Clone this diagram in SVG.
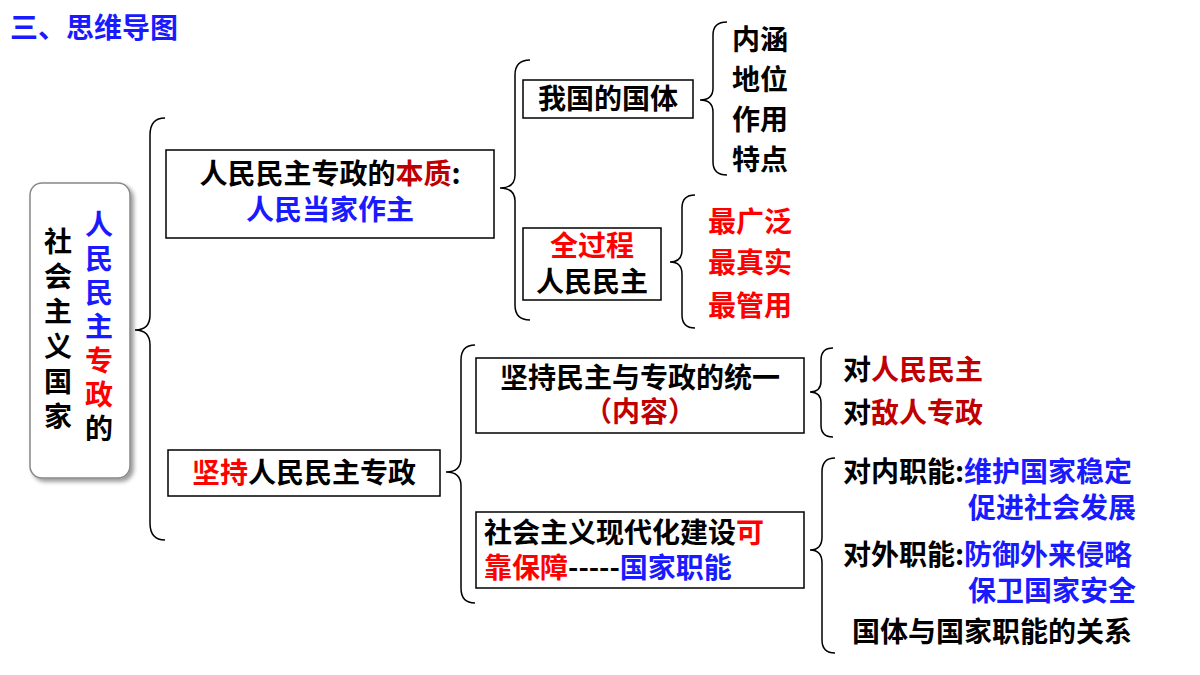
<svg xmlns="http://www.w3.org/2000/svg" width="1200" height="675" viewBox="0 0 1200 675">
<style>
text{font-family:"Noto Sans CJK SC","Noto Sans",sans-serif;font-weight:bold;font-size:28px;fill:#000}
.b{fill:#1a1aff}.r{fill:#ff0000}.dr{fill:#c00000}
.box{fill:#fff;stroke:#000;stroke-width:1.5}
.br{fill:none;stroke:#000;stroke-width:1.5}
</style>
<defs><filter id="sh"><feDropShadow dx="3" dy="3" stdDeviation="2" flood-opacity="0.4"/></filter></defs>
<rect width="1200" height="675" fill="#fff"/>
<text x="10" y="38" class="b" font-size="32">三、思维导图</text>
<g id="root">
<rect x="30" y="183" width="100" height="295" rx="12" fill="#fff" stroke="#888" stroke-width="1.5" filter="url(#sh)"/>
<text x="58" y="252" text-anchor="middle" font-size="32"><tspan x="58" dy="0">社</tspan><tspan x="58" dy="35">会</tspan><tspan x="58" dy="35">主</tspan><tspan x="58" dy="35">义</tspan><tspan x="58" dy="35">国</tspan><tspan x="58" dy="35">家</tspan></text>
<text x="99" y="235" text-anchor="middle" font-size="32"><tspan x="99" dy="0" class="b">人</tspan><tspan x="99" dy="34" class="b">民</tspan><tspan x="99" dy="34" class="b">民</tspan><tspan x="99" dy="34" class="b">主</tspan><tspan x="99" dy="34" class="r">专</tspan><tspan x="99" dy="34" class="r">政</tspan><tspan x="99" dy="34">的</tspan></text>
</g>
<g id="connectors">
<path class="br" d="M165,118 Q150,118 150,135 L150,315 Q150,330 135,330 Q150,330 150,345 L150,523 Q150,540 165,540"/>
<path class="br" d="M530,60 Q515,60 515,75 L515,175 Q515,188 500,188 Q515,188 515,201 L515,305 Q515,320 530,320"/>
<path class="br" d="M727,22 Q713,22 713,35 L713,88 Q713,100 700,100 Q713,100 713,112 L713,162 Q713,175 727,175"/>
<path class="br" d="M695,195 Q682,195 682,208 L682,250 Q682,262 670,262 Q682,262 682,274 L682,315 Q682,328 695,328"/>
<path class="br" d="M475,345 Q461,345 461,360 L461,458 Q461,472 446,472 Q461,472 461,486 L461,588 Q461,603 475,603"/>
<path class="br" d="M833,348 Q821,348 821,360 L821,381 Q821,392 810,392 Q821,392 821,403 L821,425 Q821,437 833,437"/>
<path class="br" d="M835,458 Q822,458 822,472 L822,537 Q822,550 810,550 Q822,550 822,563 L822,640 Q822,653 835,653"/>
</g>
<g id="n1"><rect class="box" x="166" y="150" width="328" height="88"/>
<text x="330" y="184" text-anchor="middle">人民民主专政的<tspan class="dr">本质</tspan>:</text>
<text x="330" y="220" text-anchor="middle" class="b">人民当家作主</text></g>
<g id="n2"><rect class="box" x="168" y="450" width="272" height="46"/>
<text x="304" y="483" text-anchor="middle"><tspan class="r">坚持</tspan>人民民主专政</text></g>
<g id="n3"><rect class="box" x="523" y="80" width="170" height="38"/>
<text x="608" y="109" text-anchor="middle">我国的国体</text></g>
<g id="n4"><rect class="box" x="523" y="228" width="138" height="72"/>
<text x="592" y="256" text-anchor="middle" class="r">全过程</text>
<text x="592" y="292" text-anchor="middle">人民民主</text></g>
<g id="n5"><text x="760" y="50" text-anchor="middle">内涵</text><text x="760" y="90" text-anchor="middle">地位</text><text x="760" y="130" text-anchor="middle">作用</text><text x="760" y="170" text-anchor="middle">特点</text></g>
<g id="n6"><text x="708" y="232" class="r">最广泛</text><text x="708" y="273" class="r">最真实</text><text x="708" y="316" class="r">最管用</text></g>
<g id="n7"><rect class="box" x="476" y="358" width="328" height="75"/>
<text x="640" y="388" text-anchor="middle">坚持民主与专政的统一</text>
<text x="640" y="422" text-anchor="middle" class="dr" font-size="20" font-weight="normal">（内容）</text></g>
<g id="n8"><rect class="box" x="476" y="512" width="328" height="76"/>
<text x="484" y="543">社会主义现代化建设<tspan class="r">可</tspan></text>
<text x="484" y="578"><tspan class="r">靠保障</tspan>-----<tspan class="b">国家职能</tspan></text></g>
<g id="n9"><text x="843" y="380">对<tspan class="dr">人民民主</tspan></text><text x="843" y="423">对<tspan class="dr">敌人专政</tspan></text></g>
<g id="n10"><text x="843" y="482">对内职能:<tspan class="b">维护国家稳定</tspan></text>
<text x="968" y="518" class="b">促进社会发展</text>
<text x="843" y="565">对外职能:<tspan class="b">防御外来侵略</tspan></text>
<text x="968" y="601" class="b">保卫国家安全</text>
<text x="852" y="642">国体与国家职能的关系</text></g>
</svg>
